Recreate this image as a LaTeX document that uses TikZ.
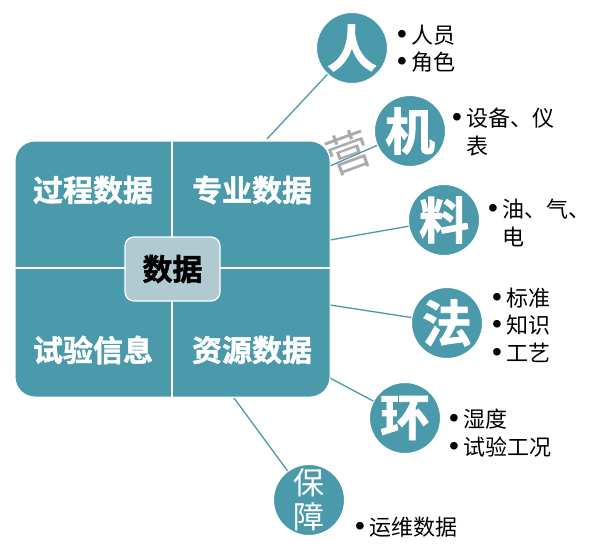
\documentclass[tikz,border=0pt]{standalone}
\usepackage{fontspec}
\setmainfont{Noto Sans CJK SC}[BoldFont={Noto Sans CJK SC Bold}, BoldFeatures={FakeBold=1.5}]
\newfontfamily\bulfont{Liberation Sans}
\newcommand\bu{{\bulfont\fontsize{28}{28}\selectfont •}\hspace{4pt}}
\newcommand\bs{\phantom{\bu}}
\definecolor{teal1}{HTML}{4A9AAC}
\definecolor{lightc}{HTML}{B1CAD2}
\definecolor{wm}{HTML}{ABABAB}
\tikzset{
  circ/.style={circle, fill=teal1, draw=white, line width=1pt, minimum size=71pt, inner sep=0pt, text=white, font=\fontsize{50}{50}\selectfont\bfseries},
  quad/.style={text=white, font=\fontsize{30}{30}\selectfont\bfseries, inner sep=0pt},
  link/.style={draw=teal1, line width=1.3pt},
  blt/.style={anchor=west, inner sep=0pt, font=\fontsize{22}{27.5}\selectfont, align=left},
}
\begin{document}
\begin{tikzpicture}[x=1pt,y=-1pt]
\useasboundingbox (0,0) rectangle (595,557);
% watermark fragment
\node[text=wm, font=\fontsize{44}{44}\selectfont, rotate=20] (wmk) at (348,152) {营};
% circles
\node[circ] (ren) at (352,48) {人};
\node[circ] (ji) at (410,131) {机};
\node[circ] (liao) at (444,220) {料};
\node[circ] (fa) at (447,323) {法};
\node[circ] (huan) at (405,418) {环};
\node[circ, font=\fontsize{31}{35}\selectfont, align=center] (bao) at (309,500) {保\\[-1pt]障};
% connector start points
\coordinate (s1) at (267,139);
\coordinate (s2) at (330,166);
\coordinate (s3) at (330,240);
\coordinate (s4) at (330,305);
\coordinate (s5) at (330,378);
\coordinate (s6) at (234,398);
\draw[link] (s1) -- (ren);
\draw[link] (s2) -- (ji);
\draw[link] (s3) -- (liao);
\draw[link] (s4) -- (fa);
\draw[link] (s5) -- (huan);
\draw[link] (s6) -- (bao);
% main box
\node[draw=white, line width=1pt, fill=teal1, rounded corners=20pt, minimum width=315pt, minimum height=256pt, inner sep=0pt] (box) at (172.5,269) {};
\draw[white, line width=1.2pt] (box.north) ++(-0.5,0) coordinate (vt) -- (box.south -| vt);
\draw[white, line width=1.2pt] (box.west) ++(0,-1) coordinate (hl) -- (box.east |- hl);
\node[quad] (q1) at (93,190) {过程数据};
\node[quad] (q2) at (252,190) {专业数据};
\node[quad] (q3) at (93,350) {试验信息};
\node[quad] (q4) at (252,350) {资源数据};
\node[draw=white, line width=1.2pt, fill=lightc, rounded corners=9pt, minimum width=95pt, minimum height=64pt, inner sep=0pt, font=\fontsize{30}{30}\selectfont\bfseries] (core) at (172.5,269) {数据};
% bullet texts
\node[blt] (t1) at (397,49) {\bu 人员\\\bu 角色};
\node[blt] (t2) at (452,132) {\bu 设备、仪\\\bs 表};
\node[blt] (t3) at (488,223) {\bu 油、气、\\\bs 电};
\node[blt] (t4) at (492,325) {\bu 标准\\\bu 知识\\\bu 工艺};
\node[blt] (t5) at (449,433) {\bu 湿度\\\bu 试验工况};
\node[blt] (t6) at (355,527) {\bu 运维数据};
\end{tikzpicture}
\end{document}
